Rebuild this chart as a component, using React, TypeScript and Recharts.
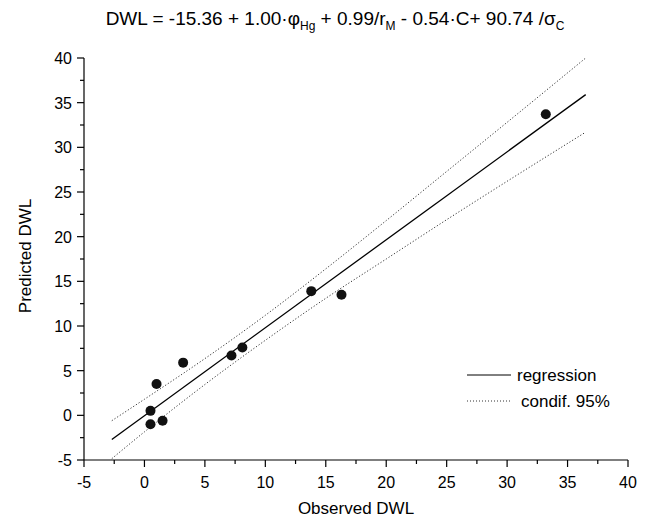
import React from 'react';
import { ComposedChart, XAxis, YAxis, Scatter, Line, Customized } from 'recharts';

const observed = [3.2, 1.0, 0.5, 0.5, 1.5, 7.2, 8.1, 13.8, 16.3, 33.2];
const predicted = [5.9, 3.5, 0.5, -1.0, -0.6, 6.7, 7.6, 13.9, 13.5, 33.7];

const regX = [-2.7, 36.5];
const regY = [-2.7, 35.9];

const bandX = [-2.7, 0, 5, 10, 15, 20, 25, 30, 36.5];
const upperY = [-0.6, 1.8, 6.35, 11.2, 16.4, 21.8, 27.3, 32.8, 40.0];
const lowerY = [-4.85, -1.85, 3.45, 8.4, 13.1, 17.5, 21.9, 26.2, 31.7];

const axisTicks = [-5, -2.5, 0, 2.5, 5, 7.5, 10, 12.5, 15, 17.5, 20, 22.5, 25, 27.5, 30, 32.5, 35, 37.5, 40];

const points = observed.map((x, i) => ({ x, y: predicted[i] }));
const regression = regX.map((x, i) => ({ x, y: regY[i] }));
const upper = bandX.map((x, i) => ({ x, y: upperY[i] }));
const lower = bandX.map((x, i) => ({ x, y: lowerY[i] }));

const FONT = '"Liberation Sans", Arial, sans-serif';

const XTick = (props: any) => {
  const { x, y, payload } = props;
  const major = payload.value % 5 === 0;
  return (
    <g>
      <line x1={x} y1={y} x2={x} y2={y + (major ? 7 : 4)} stroke="#000" strokeWidth={1.2} />
      {major && (
        <text x={x} y={y + 28} textAnchor="middle" fontSize={16} fontFamily={FONT} fill="#000">
          {payload.value}
        </text>
      )}
    </g>
  );
};

const YTick = (props: any) => {
  const { x, y, payload } = props;
  const major = payload.value % 5 === 0;
  return (
    <g>
      <line x1={x} y1={y} x2={x - (major ? 7 : 4)} y2={y} stroke="#000" strokeWidth={1.2} />
      {major && (
        <text x={x - 12} y={y + 6} textAnchor="end" fontSize={16} fontFamily={FONT} fill="#000">
          {payload.value}
        </text>
      )}
    </g>
  );
};

const Dot = (props: any) => {
  const { cx, cy } = props;
  return <circle cx={cx} cy={cy} r={5} fill="#111" />;
};

const Extras = () => (
  <g fontFamily={FONT} fill="#000">
    <text x={335} y={25} textAnchor="middle" fontSize={19}>
      <tspan>DWL = -15.36 + 1.00·φ</tspan>
      <tspan fontSize={12} dy={5}>Hg</tspan>
      <tspan dy={-5}> + 0.99/r</tspan>
      <tspan fontSize={12} dy={5}>M</tspan>
      <tspan dy={-5}> - 0.54·C+ 90.74 /σ</tspan>
      <tspan fontSize={12} dy={5}>C</tspan>
    </text>
    <text x={356} y={514} textAnchor="middle" fontSize={17}>Observed DWL</text>
    <text x={0} y={0} textAnchor="middle" fontSize={17} transform="translate(31,256) rotate(-90)">Predicted DWL</text>
    <line x1={467} y1={375} x2={511} y2={375} stroke="#000" strokeWidth={1} />
    <text x={517} y={381} fontSize={17}>regression</text>
    <line x1={467} y1={401} x2={511} y2={401} stroke="#333" strokeWidth={1} strokeDasharray="1 2" />
    <text x={521} y={407} fontSize={17}>condif. 95%</text>
  </g>
);

export default function App() {
  return (
    <div style={{ position: 'absolute', left: 0, top: 0, background: '#fff' }}>
      <ComposedChart width={651} height={522} margin={{ top: 58, right: 23, bottom: 0, left: 0 }}>
        <XAxis
          type="number"
          dataKey="x"
          domain={[-5, 40]}
          ticks={axisTicks}
          interval={0}
          allowDataOverflow
          height={62}
          tickSize={0}
          tickMargin={0}
          tickLine={false}
          axisLine={{ stroke: '#000', strokeWidth: 1.2 }}
          tick={<XTick />}
        />
        <YAxis
          type="number"
          dataKey="y"
          domain={[-5, 40]}
          ticks={axisTicks}
          interval={0}
          allowDataOverflow
          width={84}
          tickSize={0}
          tickMargin={0}
          tickLine={false}
          axisLine={{ stroke: '#000', strokeWidth: 1.2 }}
          tick={<YTick />}
        />
        <Line data={upper} dataKey="y" type="monotone" stroke="#333" strokeWidth={1} strokeDasharray="1.2 2" dot={false} isAnimationActive={false} />
        <Line data={lower} dataKey="y" type="monotone" stroke="#333" strokeWidth={1} strokeDasharray="1.2 2" dot={false} isAnimationActive={false} />
        <Line data={regression} dataKey="y" type="linear" stroke="#000" strokeWidth={1.3} dot={false} isAnimationActive={false} />
        <Scatter data={points} dataKey="y" fill="#111" shape={<Dot />} isAnimationActive={false} />
        <Customized component={Extras} />
      </ComposedChart>
    </div>
  );
}
